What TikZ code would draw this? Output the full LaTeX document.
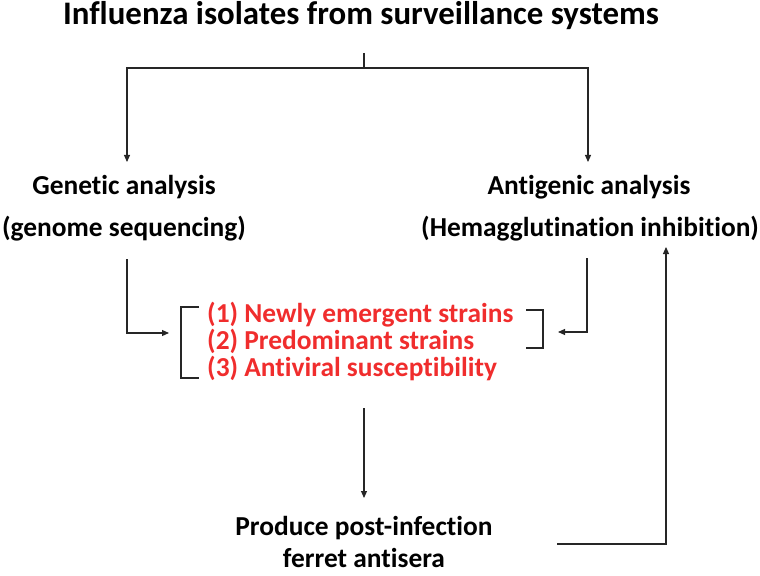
\documentclass[tikz,border=0pt]{standalone}
\usepackage{fontspec}
\setmainfont{Carlito}[Ligatures=CommonOff]
\usetikzlibrary{arrows.meta}
\definecolor{listred}{RGB}{240,45,45}

\begin{document}
\begin{tikzpicture}[x=1bp, y=-1bp,
        line/.style={line width=1.1bp, color=black!85},
        arr/.style={line, -{Triangle[length=7bp,width=6bp]}},
        lbl/.style={inner sep=0pt, anchor=base, font=\fontsize{27.5}{32}\selectfont\bfseries},
        redlbl/.style={lbl, anchor=base west, color=listred}]
        \useasboundingbox (0,0) rectangle (760,576);

        % texts
        \node[lbl, font=\fontsize{33}{38}\selectfont\bfseries] (title) at (361,25) {Influenza isolates from surveillance systems};
        \node[lbl] (gen) at (124,195) {Genetic analysis};
        \node[lbl] (genseq) at (124,236) {(genome sequencing)};
        \node[lbl] (ant) at (589,195) {Antigenic analysis};
        \node[lbl] (anthi) at (590,236) {(Hemagglutination inhibition)};
        \node[redlbl] (new) at (207,322) {(1) Newly emergent strains};
        \node[redlbl] (pre) at (207,349) {(2) Predominant strains};
        \node[redlbl] (avs) at (207,376) {(3) Antiviral susceptibility};
        \node[lbl] (prod) at (364,535) {Produce post-infection};
        \node[lbl] (ferret) at (364,567) {ferret antisera};

        % brackets round the red list
        \coordinate (lbtop) at (181,307);
        \coordinate (lbbot) at (181,378);
        \coordinate (rbtop) at (543,310);
        \coordinate (rbbot) at (543,348);
        \draw[line] ([xshift=18bp]lbtop) -- (lbtop) -- (lbbot) -- ++(18,0);
        \draw[line] ([xshift=-17bp]rbtop) -- (rbtop) -- (rbbot) -- ++(-17,0);

        % top split
        \coordinate (split) at (364,68);
        \draw[line] (364,53) -- (split);
        \draw[arr] (split) -| (127,162);
        \draw[arr] (split) -| (588,162);

        % into the list
        \draw[arr] (127,259) |- (169,333);
        \draw[arr] (587,258) |- (558,332);

        % down to antisera, and back up
        \draw[arr] (364,408) -- (364,498);
        \draw[arr] (557,544) -| (666,247);
    \end{tikzpicture}
\end{document}
